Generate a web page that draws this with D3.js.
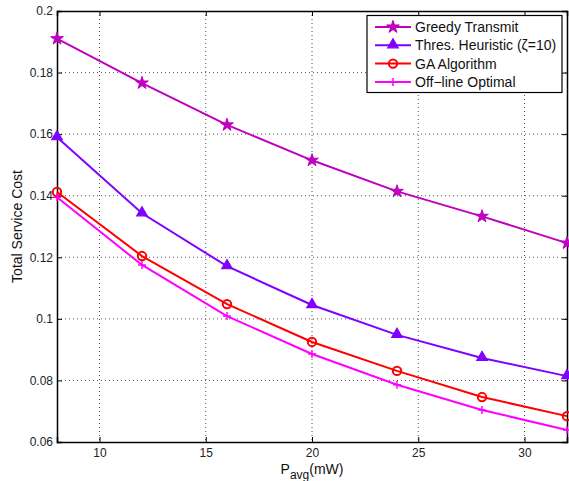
<!DOCTYPE html>
<html><head><meta charset="utf-8">
<script src="https://cdn.jsdelivr.net/npm/d3@7/dist/d3.min.js"></script>
<style>body{margin:0;background:#fff}svg{display:block}text{font-family:"Liberation Sans",Arial,sans-serif}</style>
</head><body>
<svg id="c" width="569" height="481"></svg>
<script>
const xValues = [8, 12, 16, 20, 24, 28, 32];
const greedy = [0.191, 0.1766, 0.163, 0.1515, 0.1414, 0.1333, 0.1246];
const thres = [0.159, 0.1343, 0.1171, 0.1045, 0.0948, 0.0873, 0.0814];
const ga = [0.1412, 0.1204, 0.1048, 0.0925, 0.0831, 0.0746, 0.0684];
const offline = [0.1395, 0.1175, 0.1009, 0.0886, 0.0786, 0.0704, 0.0639];
const xTicks = [10, 15, 20, 25, 30];
const yTicks = [0.06, 0.08, 0.1, 0.12, 0.14, 0.16, 0.18, 0.2];
const seriesNames = ["Greedy Transmit", "Thres. Heuristic (\u03B6=10)", "GA Algorithm", "Off\u2212line Optimal"];

const svg = d3.select("#c");
const L = 57, R = 567, T = 11, B = 442;
const x = d3.scaleLinear().domain([8, 32]).range([L, R]);
const y = d3.scaleLinear().domain([0.06, 0.2]).range([B, T]);

// grid
const g = svg.append("g");
xTicks.forEach(t => g.append("line").attr("x1", x(t)).attr("x2", x(t)).attr("y1", T).attr("y2", B)
  .attr("stroke", "#555").attr("stroke-width", 1).attr("stroke-dasharray", "1,3"));
yTicks.slice(1, -1).forEach(t => g.append("line").attr("x1", L).attr("x2", R).attr("y1", y(t)).attr("y2", y(t))
  .attr("stroke", "#555").attr("stroke-width", 1).attr("stroke-dasharray", "1,3"));

// axes (MATLAB style inward ticks)
const axB = svg.append("g").attr("transform", `translate(0,${B})`)
  .call(d3.axisBottom(x).tickValues(xTicks).tickSize(-5).tickPadding(6).tickFormat(d3.format("d")));
const axT = svg.append("g").attr("transform", `translate(0,${T})`)
  .call(d3.axisTop(x).tickValues(xTicks).tickSize(-5).tickFormat(""));
const axL = svg.append("g").attr("transform", `translate(${L},0)`)
  .call(d3.axisLeft(y).tickValues(yTicks).tickSize(-5).tickPadding(4).tickFormat(d => d3.format("")(+d.toFixed(2))));
const axR = svg.append("g").attr("transform", `translate(${R},0)`)
  .call(d3.axisRight(y).tickValues(yTicks).tickSize(-5).tickFormat(""));
[axB, axT, axL, axR].forEach(a => {
  a.select(".domain").attr("stroke", "#000").attr("stroke-width", 1.5);
  a.selectAll(".tick line").attr("stroke", "#000");
  a.selectAll("text").attr("font-size", 12).attr("fill", "#222").style("font-family", "Liberation Sans, Arial, sans-serif");
});
axL.selectAll("text").attr("dy", "0.32em");

const line = d3.line().x((d, i) => x(xValues[i])).y(d => y(d));
const series = [
  {v: greedy, c: "#bf00bf", m: "star"},
  {v: thres, c: "#7f00ff", m: "tri"},
  {v: ga, c: "#ff0000", m: "circ"},
  {v: offline, c: "#ff00ff", m: "plus"}
];
const starPath = d3.symbol().type(d3.symbolStar).size(50)();
const triPath = d3.symbol().type(d3.symbolTriangle).size(48)();
function marker(sel, m, c, cx, cy) {
  const gg = sel.append("g").attr("transform", `translate(${cx},${cy})`);
  if (m === "star") gg.append("path").attr("d", starPath).attr("fill", c).attr("stroke", c).attr("stroke-width", 1);
  else if (m === "tri") gg.append("path").attr("d", triPath).attr("transform", "translate(0,-0.5)").attr("fill", c).attr("stroke", c).attr("stroke-width", 1.2);
  else if (m === "circ") gg.append("circle").attr("r", 4.2).attr("fill", "none").attr("stroke", c).attr("stroke-width", 2);
  else if (m === "plus") {
    gg.append("line").attr("x1", -4).attr("x2", 4).attr("stroke", c).attr("stroke-width", 1.5);
    gg.append("line").attr("y1", -4).attr("y2", 4).attr("stroke", c).attr("stroke-width", 1.5);
  }
}
const plot = svg.append("g");
series.forEach(s => {
  plot.append("path").attr("d", line(s.v)).attr("fill", "none").attr("stroke", s.c).attr("stroke-width", 2);
  s.v.forEach((d, i) => marker(plot, s.m, s.c, x(xValues[i]), y(d)));
});

// legend
const lg = svg.append("g");
lg.append("rect").attr("x", 367).attr("y", 15.5).attr("width", 195).attr("height", 77)
  .attr("fill", "#fff").attr("stroke", "#000").attr("stroke-width", 1.2);
series.forEach((s, i) => {
  const yy = 27 + i * 18.3;
  lg.append("line").attr("x1", 375).attr("x2", 411).attr("y1", yy).attr("y2", yy).attr("stroke", s.c).attr("stroke-width", 2);
  marker(lg, s.m, s.c, 393, yy);
  lg.append("text").attr("x", 415).attr("y", yy).attr("dy", "0.35em").attr("font-size", 14).attr("fill", "#111").text(seriesNames[i]);
});

// axis labels
svg.append("text").attr("transform", `translate(22,${(T + B) / 2}) rotate(-90)`).attr("text-anchor", "middle")
  .attr("font-size", 14).attr("fill", "#111").text("Total Service Cost");
const xl = svg.append("text").attr("x", 312).attr("y", 474).attr("text-anchor", "middle").attr("font-size", 14).attr("fill", "#111");
xl.append("tspan").text("P");
xl.append("tspan").attr("dy", 5).attr("font-size", 12).text("avg");
xl.append("tspan").attr("dy", -5).text("(mW)");
</script>
</body></html>
